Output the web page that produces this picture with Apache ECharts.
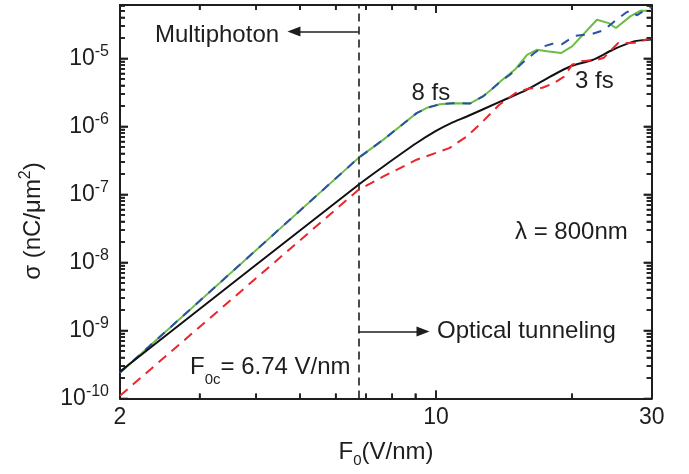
<!DOCTYPE html>
<html>
<head>
<meta charset="utf-8">
<script src="https://cdn.jsdelivr.net/npm/echarts@6/dist/echarts.min.js"></script>
<style>
  html, body { margin: 0; padding: 0; background: #fff; }
  #chart { width: 689px; height: 474px; }
</style>
</head>
<body>
<div id="chart"></div>
<script>
// Emitted charge density sigma (nC/um^2) versus peak field F0 (V/nm), lambda = 800 nm

// 8 fs pulse, solid curve
const field8fsSolid = [2, 6.74, 7.65, 8.4, 9.06, 9.6, 10.2, 10.9, 11.9, 12.7, 13.2, 13.9, 15.0, 15.9, 16.7, 17.6, 18.9, 20.0, 22.7, 24.1, 25.0, 26.9, 28.3, 30];
const sigma8fsSolid = [2.4e-10, 3.45e-7, 6.4e-7, 1.05e-6, 1.57e-6, 1.9e-6, 2.12e-6, 2.2e-6, 2.18e-6, 2.76e-6, 3.4e-6, 4.6e-6, 7.0e-6, 1.13e-5, 1.34e-5, 1.27e-5, 1.2e-5, 1.5e-5, 3.7e-5, 3.3e-5, 2.8e-5, 4.15e-5, 5.0e-5, 5.0e-5];

// 8 fs pulse, dashed curve
const field8fsDashed = [2, 6.74, 7.65, 8.4, 9.06, 9.6, 10.2, 10.9, 11.9, 12.7, 13.2, 13.9, 14.6, 15.5, 16.5, 17.3, 18.1, 19.0, 20.3, 22.2, 23.5, 24.8, 26.3, 27.0, 27.8, 29.2, 30];
const sigma8fsDashed = [2.4e-10, 3.45e-7, 6.4e-7, 1.05e-6, 1.57e-6, 1.9e-6, 2.12e-6, 2.2e-6, 2.18e-6, 2.76e-6, 3.4e-6, 4.6e-6, 5.8e-6, 8.5e-6, 1.2e-5, 1.5e-5, 1.64e-5, 1.62e-5, 2.15e-5, 2.3e-5, 2.6e-5, 3.5e-5, 4.7e-5, 5.1e-5, 4.3e-5, 5.3e-5, 5.7e-5];

// 3 fs pulse, solid curve
const field3fsSolid = [2, 6.74, 7.65, 9.06, 10, 10.8, 11.7, 13.9, 15.9, 17.9, 19.8, 22.3, 24.6, 27.4, 30];
const sigma3fsSolid = [2.5e-10, 1.39e-7, 2.58e-7, 5.7e-7, 8.6e-7, 1.12e-6, 1.4e-6, 2.33e-6, 3.47e-6, 5.4e-6, 7.6e-6, 9.6e-6, 1.34e-5, 1.78e-5, 1.9e-5];

// 3 fs pulse, dashed curve
const field3fsDashed = [2, 6.74, 7.65, 9.06, 10.7, 11.7, 12.7, 13.8, 15.0, 16.0, 17.2, 18.3, 19.2, 20.0, 21.0, 22.8, 23.5, 24.2, 25.3, 26.6, 27.8, 29.2, 30];
const sigma3fsDashed = [1.1e-10, 1.17e-7, 1.84e-7, 3.24e-7, 4.8e-7, 7.1e-7, 1.19e-6, 2.08e-6, 3.1e-6, 3.6e-6, 3.7e-6, 4.4e-6, 5.4e-6, 8.1e-6, 9.1e-6, 9.6e-6, 1.02e-5, 1.26e-5, 1.68e-5, 1.68e-5, 1.7e-5, 1.9e-5, 2.0e-5];

// Axis ranges and ticks
const xMin = 2, xMax = 30;
const yMin = 1e-10, yMax = 6.1e-5;
const xLabelValues = [2, 10, 30];
const xMajorTicks = [10];
const xMinorTicks = [3, 4, 5, 6, 7, 8, 9, 20];
const yDecadeExponents = [-10, -9, -8, -7, -6, -5];
const yMinorMantissas = [2, 3, 4, 5, 6, 7, 8, 9];

// Regime boundary and arrow annotations
const criticalField = 6.74;
const multiphotonArrow = { fromF: 6.74, toF: 4.85, sigma: 2.49e-5 };
const tunnelingArrow = { fromF: 6.74, toF: 9.36, sigma: 9.7e-10 };

const yMajorTicks = yDecadeExponents.map(n => Number('1e' + n));
const yMinorTicks = [];
yDecadeExponents.forEach(n => {
  yMinorMantissas.forEach(k => {
    const v = Number(k + 'e' + n);
    if (v < yMax) yMinorTicks.push(v);
  });
});

const zip = (xs, ys) => xs.map((x, i) => [x, ys[i]]);

const FONT = '"Liberation Sans", Arial, Helvetica, sans-serif';
const INK = '#1e1e1e';

// Plot frame size in pixels
const GRID = { left: 120, right: 37.3, top: 5, bottom: 75.5 };
const PLOT_W = 689 - GRID.left - GRID.right;
const PLOT_H = 474 - GRID.top - GRID.bottom;
const MAJOR_LEN = 8, MINOR_LEN = 5, TICK_W = 1.6;

// Edge anchors sit a hair inside the axis range so range checks keep them
const EDGE = 1.00001;
const xLo = xMin * EDGE, xHi = xMax / EDGE;
const yLo = yMin * EDGE, yHi = yMax / EDGE;

// Inward tick segments on all four edges, in axis units (pixel length -> ratio)
const xRatio = len => Math.pow(xMax / xMin, len / PLOT_W);
const yRatio = len => Math.pow(yMax / yMin, len / PLOT_H);
const tickStyle = { color: INK, width: TICK_W, type: 'solid' };
const tickSegments = [];
function addXTick(v, len) {
  tickSegments.push([{ coord: [v, yLo], lineStyle: tickStyle }, { coord: [v, yMin * yRatio(len)] }]);
  tickSegments.push([{ coord: [v, yHi], lineStyle: tickStyle }, { coord: [v, yMax / yRatio(len)] }]);
}
function addYTick(v, len) {
  tickSegments.push([{ coord: [xLo, v], lineStyle: tickStyle }, { coord: [xMin * xRatio(len), v] }]);
  tickSegments.push([{ coord: [xHi, v], lineStyle: tickStyle }, { coord: [xMax / xRatio(len), v] }]);
}
xMajorTicks.forEach(v => addXTick(v, MAJOR_LEN));
xMinorTicks.forEach(v => addXTick(v, MINOR_LEN));
yMajorTicks.forEach(v => addYTick(v, MAJOR_LEN));
yMinorTicks.forEach(v => addYTick(v, MINOR_LEN));

// The same ticks as custom-series items: [x, y, length]
const xTickItems = xMajorTicks.map(v => [v, yLo, MAJOR_LEN]).concat(xMinorTicks.map(v => [v, yLo, MINOR_LEN]));
const yTickItems = yMajorTicks.map(v => [xLo, v, MAJOR_LEN]).concat(yMinorTicks.map(v => [xLo, v, MINOR_LEN]));

function tickRenderer(dim) {
  return function (params, api) {
    const cs = params.coordSys;
    const p = api.coord([api.value(0), api.value(1)]);
    const len = api.value(2);
    const style = { fill: INK };
    if (dim === 'x') {
      return { type: 'group', children: [
        { type: 'rect', shape: { x: p[0] - TICK_W / 2, y: cs.y + cs.height - len, width: TICK_W, height: len }, style: style },
        { type: 'rect', shape: { x: p[0] - TICK_W / 2, y: cs.y, width: TICK_W, height: len }, style: style }
      ] };
    }
    return { type: 'group', children: [
      { type: 'rect', shape: { x: cs.x, y: p[1] - TICK_W / 2, width: len, height: TICK_W }, style: style },
      { type: 'rect', shape: { x: cs.x + cs.width - len, y: p[1] - TICK_W / 2, width: len, height: TICK_W }, style: style }
    ] };
  };
}

function xAxisDef(position, showLabels) {
  return {
    type: 'log', logBase: 10, position: position, min: xMin, max: xMax,
    axisLine: { show: true, onZero: false, lineStyle: { color: INK, width: 2 } },
    axisTick: { show: false },
    axisLabel: showLabels ? {
      show: true, customValues: xLabelValues, margin: 8,
      fontFamily: FONT, fontSize: 23, color: INK,
      formatter: v => String(Math.round(v))
    } : { show: false },
    splitLine: { show: false }, minorTick: { show: false }, minorSplitLine: { show: false }
  };
}

function yAxisDef(position, showLabels) {
  return {
    type: 'log', logBase: 10, position: position, min: yMin, max: yMax,
    axisLine: { show: true, onZero: false, lineStyle: { color: INK, width: 2 } },
    axisTick: { show: false },
    axisLabel: showLabels ? {
      show: true, customValues: yMajorTicks, margin: 11,
      color: INK,
      formatter: v => '{b|10}{s|' + Math.round(Math.log10(v)) + '}',
      rich: {
        b: { fontFamily: FONT, fontSize: 23, color: INK },
        s: { fontFamily: FONT, fontSize: 16, color: INK, padding: [0, 0, 13, 0] }
      }
    } : { show: false },
    splitLine: { show: false }, minorTick: { show: false }, minorSplitLine: { show: false }
  };
}

const chart = echarts.init(document.getElementById('chart'), null, { renderer: 'canvas' });

const textBase = { fontFamily: FONT, fontSize: 24, fill: INK };
const arrowHead = { symbol: 'triangle', symbolSize: [10, 13] };
const guideStyle = { color: INK, width: 1.6, type: 'solid' };

const annotations = [
  { type: 'text', x: 155, y: 35, silent: true,
    style: Object.assign({ text: 'Multiphoton', align: 'left', verticalAlign: 'middle', textAlign: 'left', textVerticalAlign: 'middle' }, textBase) },
  { type: 'text', x: 437, y: 331.5, silent: true,
    style: Object.assign({ text: 'Optical tunneling', align: 'left', verticalAlign: 'middle', textAlign: 'left', textVerticalAlign: 'middle' }, textBase) },
  { type: 'text', x: 411.5, y: 93.5, silent: true,
    style: Object.assign({ text: '8 fs', align: 'left', verticalAlign: 'middle', textAlign: 'left', textVerticalAlign: 'middle' }, textBase) },
  { type: 'text', x: 575, y: 81, silent: true,
    style: Object.assign({ text: '3 fs', align: 'left', verticalAlign: 'middle', textAlign: 'left', textVerticalAlign: 'middle' }, textBase) },
  { type: 'text', x: 515, y: 232, silent: true,
    style: Object.assign({ text: 'λ = 800nm', align: 'left', verticalAlign: 'middle', textAlign: 'left', textVerticalAlign: 'middle' }, textBase) },
  { type: 'text', x: 190, y: 367.5, silent: true,
    style: {
      text: '{b|F}{s|0c}{b|= 6.74 V/nm}',
      align: 'left', verticalAlign: 'middle', textAlign: 'left', textVerticalAlign: 'middle',
      rich: {
        b: { fontFamily: FONT, fontSize: 24, fill: INK, color: INK },
        s: { fontFamily: FONT, fontSize: 15, fill: INK, color: INK, padding: [24, 0, 0, 0] }
      }
    } },
  { type: 'text', x: 386, y: 452, silent: true,
    style: {
      text: '{b|F}{s|0}{b|(V/nm)}',
      align: 'center', verticalAlign: 'middle', textAlign: 'center', textVerticalAlign: 'middle',
      rich: {
        b: { fontFamily: FONT, fontSize: 24, fill: INK, color: INK },
        s: { fontFamily: FONT, fontSize: 15, fill: INK, color: INK, padding: [18, 0, 0, 0] }
      }
    } },
  { type: 'text', x: 33.5, y: 221, rotation: Math.PI / 2, silent: true,
    style: {
      text: '{b|σ (nC/μm}{s|2}{b|)}',
      align: 'center', verticalAlign: 'middle', textAlign: 'center', textVerticalAlign: 'middle',
      rich: {
        b: { fontFamily: FONT, fontSize: 24, fill: INK, color: INK },
        s: { fontFamily: FONT, fontSize: 16, fill: INK, color: INK, padding: [0, 0, 16, 0] }
      }
    } }
];

chart.setOption({
  animation: false,
  backgroundColor: '#ffffff',
  grid: { left: GRID.left, right: GRID.right, top: GRID.top, bottom: GRID.bottom, containLabel: false, outerBoundsMode: 'none' },
  xAxis: [xAxisDef('bottom', true), xAxisDef('top', false)],
  yAxis: [yAxisDef('left', true), yAxisDef('right', false)],
  series: [
    {
      name: '8 fs', type: 'line', data: zip(field8fsSolid, sigma8fsSolid),
      showSymbol: false, symbol: 'none', z: 2,
      lineStyle: { color: '#6cbd45', width: 2, type: 'solid' }
    },
    {
      name: '8 fs dashed', type: 'line', data: zip(field8fsDashed, sigma8fsDashed),
      showSymbol: false, symbol: 'none', z: 3,
      lineStyle: { color: '#2b50a6', width: 2, type: [9, 8] }
    },
    {
      name: '3 fs', type: 'line', data: zip(field3fsSolid, sigma3fsSolid),
      showSymbol: false, symbol: 'none', z: 4, smooth: 0.25,
      lineStyle: { color: '#111111', width: 2, type: 'solid' }
    },
    {
      name: '3 fs dashed', type: 'line', data: zip(field3fsDashed, sigma3fsDashed),
      showSymbol: false, symbol: 'none', z: 5,
      lineStyle: { color: '#e8262b', width: 2, type: [10, 7] }
    },
    {
      name: 'frame', type: 'line', data: [], z: 6, silent: true, clip: false,
      markLine: {
        silent: true, animation: false,
        symbol: ['none', 'none'],
        label: { show: false },
        emphasis: { disabled: true },
        data: [
          { xAxis: criticalField, lineStyle: { color: INK, width: 1.6, type: [8, 5] } },
          [
            { coord: [multiphotonArrow.fromF, multiphotonArrow.sigma], symbol: 'none', lineStyle: guideStyle },
            Object.assign({ coord: [multiphotonArrow.toF, multiphotonArrow.sigma] }, arrowHead)
          ],
          [
            { coord: [tunnelingArrow.fromF, tunnelingArrow.sigma], symbol: 'none', lineStyle: guideStyle },
            Object.assign({ coord: [tunnelingArrow.toF, tunnelingArrow.sigma] }, arrowHead)
          ]
        ].concat(tickSegments)
      }
    },
    {
      name: 'x ticks', type: 'custom', data: xTickItems, silent: true, clip: false, z: 7,
      encode: { x: 0, y: 1 }, renderItem: tickRenderer('x')
    },
    {
      name: 'y ticks', type: 'custom', data: yTickItems, silent: true, clip: false, z: 7,
      encode: { x: 0, y: 1 }, renderItem: tickRenderer('y')
    }
  ],
  graphic: annotations
});
</script>
</body>
</html>
